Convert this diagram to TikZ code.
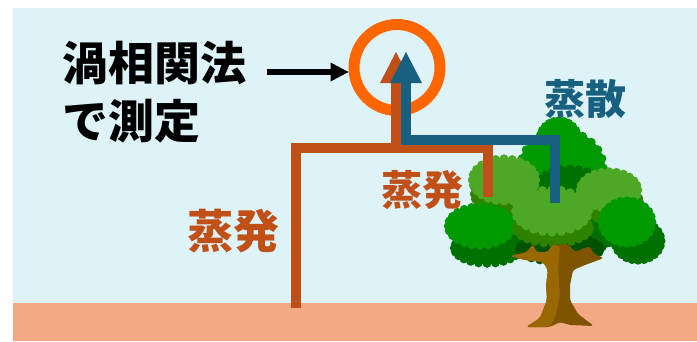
\documentclass[tikz,border=0pt]{standalone}
\usepackage{fontspec}
\usetikzlibrary{arrows.meta,calc}
\newfontfamily\jp{Noto Sans CJK JP}[BoldFont={* Black}]

\definecolor{sky}{HTML}{DDF3F8}
\definecolor{soil}{HTML}{F2A984}
\definecolor{evapcol}{HTML}{C05018}
\definecolor{transpcol}{HTML}{17607F}
\definecolor{ringcol}{HTML}{FF6600}
\definecolor{leafmid}{HTML}{009900}
\definecolor{leaflight}{HTML}{4DA826}
\definecolor{leafshade}{HTML}{2F8200}
\definecolor{leafdark}{HTML}{007000}
\definecolor{leafdeep}{HTML}{005200}
\definecolor{barklight}{HTML}{9A6800}
\definecolor{barkdark}{HTML}{7E5400}

% a clump of leaves with a bumpy rim: x, y, x radius, y radius, colour
\newcommand{\bush}[5]{%
  \fill[#5] (#1,#2) ellipse[x radius=#3, y radius=#4];
  \foreach \a in {0,15,...,345}
    \fill[#5] ($(#1,#2)+({0.96*#3*cos(\a)},{0.96*#4*sin(\a)})$) circle[radius=4.5];
}

\tikzset{
  label/.style={font=\jp\bfseries\fontsize{#1}{#1}\selectfont, inner sep=0pt},
  flux/.style={draw=#1, line width=10pt},
  head/.style={-{Triangle[length=31pt,width=32pt,line width=0pt]}},
  pointer/.style={line width=6pt, -{Triangle[length=18pt,width=19pt,line width=0pt]}},
  ring/.style={circle, draw=ringcol, line width=11pt, minimum size=86pt, inner sep=0pt}
}

\begin{document}
\begin{tikzpicture}[x=1pt,y=-1pt]
  \useasboundingbox (0,0) rectangle (697,341);
  \fill[sky] (13,7.5) rectangle (697,303);
  \fill[soil] (13,303) rectangle (697,341);

  % tree: back leaves
  \bush{556}{222}{96}{30}{leafdark}
  \bush{487}{248}{34}{16}{leafdark}
  \bush{638}{241}{24}{20}{leafdark}
  \bush{560}{249}{42}{13}{leafdeep}
  \bush{562}{168}{43}{38}{leafmid}
  \bush{559}{140}{20}{20}{leafmid}
  \bush{570}{190}{36}{22}{leafdark}
  % side clumps
  \bush{506}{194}{33}{20}{leafshade}
  \bush{504}{180}{33}{22}{leaflight}
  \bush{611}{203}{30}{18}{leafshade}
  \bush{609}{190}{30}{19}{leaflight}
  \bush{480}{226}{33}{20}{leafmid}
  \bush{627}{222}{26}{22}{leafmid}
  % middle clump
  \bush{553}{228}{38}{16}{leafshade}
  \bush{552}{211}{38}{22}{leaflight}
  % trunk and branches
  \fill[barkdark, rounded corners=3pt] (526,327) -- (540,318) -- (547,300) -- (546,285)
    -- (548,270) -- (543,262) -- (525,260) -- (510,256) -- (527,252) -- (533,244)
    -- (536,252) -- (548,252) -- (552,245) -- (568,244) -- (575,252) -- (590,246)
    -- (594,254) -- (604,258) -- (585,265) -- (573,270) -- (570,285) -- (570,300)
    -- (578,314) -- (594,326) -- (570,325) -- (560,322) -- (550,327) -- cycle;
  \fill[barklight, rounded corners=3pt] (526,327) -- (540,318) -- (547,300) -- (546,285)
    -- (548,270) -- (543,262) -- (525,260) -- (510,256) -- (527,252) -- (533,244)
    -- (536,252) -- (548,252) -- (552,245) -- (560,246) -- (558,270) -- (560,295)
    -- (556,315) -- (550,327) -- cycle;

  % evaporation and transpiration paths
  \coordinate (rootL) at (296,308);
  \coordinate (kinkL) at (296,148);
  \coordinate (joinE) at (396,148);
  \coordinate (topE) at (396,52);
  \coordinate (leafE) at (488,197);
  \coordinate (kinkE) at (488,148);
  \coordinate (leafT) at (555,203);
  \coordinate (kinkT) at (555,140);
  \coordinate (baseT) at (406,140);
  \coordinate (topT) at (406,52);

  \node[ring] (ring) at (397,67.5) {};

  \draw[flux=evapcol, head] (rootL) -- (kinkL) -- (joinE) -- (topE);
  \draw[flux=evapcol] (leafE) -- (kinkE) -- (joinE);
  \draw[flux=transpcol, head] (leafT) -- (kinkT) -- (baseT) -- (topT);

  % labels
  \node[label=46, anchor=west] (eddy) at (62,63) {渦相関法};
  \node[label=46, anchor=west] (meas) at (62,121) {で測定};
  \node[label=41, text=transpcol] (transp) at (585,99) {蒸散};
  \node[label=46, text=evapcol] (evapL) at (233,231) {蒸発};
  \node[label=41, text=evapcol] (evapR) at (422,190) {蒸発};

  \coordinate (ptr) at (267,72);
  \draw[pointer] (ptr) -- (ptr -| ring.west);
\end{tikzpicture}
\end{document}
